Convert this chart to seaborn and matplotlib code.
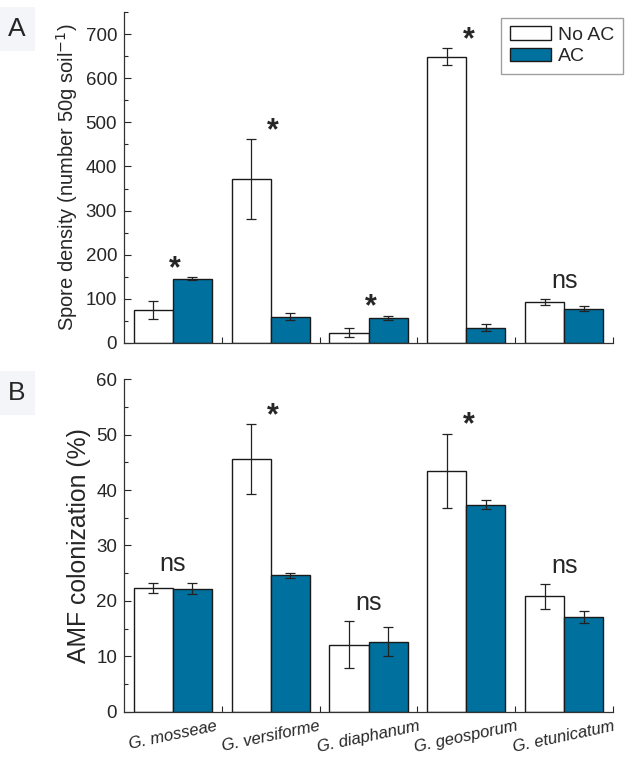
import numpy as np
import pandas as pd
import matplotlib
matplotlib.use('Agg')
import matplotlib.pyplot as plt
import seaborn as sns
from matplotlib.patches import Patch
from matplotlib.ticker import MultipleLocator, FixedLocator

# Dados
especies = ['G. mosseae', 'G. versiforme', 'G. diaphanum', 'G. geosporum', 'G. etunicatum']
tratamentos = ['No AC', 'AC']

esporos_noac = [75, 371, 23, 649, 92]
esporos_noac_err = [21, 91, 10, 19, 7]
esporos_ac = [146, 59, 57, 35, 78]
esporos_ac_err = [3, 8, 4, 8, 5]
sig_esporos = ['*', '*', '*', '*', 'ns']

colon_noac = [22.4, 45.6, 12.1, 43.5, 20.8]
colon_noac_err = [0.9, 6.3, 4.2, 6.7, 2.3]
colon_ac = [22.2, 24.6, 12.6, 37.4, 17.1]
colon_ac_err = [1.0, 0.4, 2.6, 0.9, 1.1]
sig_colon = ['ns', '*', 'ns', '*', 'ns']

azul = '#00709f'
cores = {'No AC': 'white', 'AC': azul}

sns.set_style('ticks')
plt.rcParams['font.family'] = ['Liberation Sans', 'DejaVu Sans']


def monta_df(noac, noac_err, ac, ac_err):
    return pd.DataFrame({
        'especie': especies * 2,
        'tratamento': ['No AC'] * 5 + ['AC'] * 5,
        'valor': noac + ac,
        'erro': noac_err + ac_err,
    })


def painel(ax, df, sig, ylim, major, minor, ylabel, ylabel_size):
    sns.barplot(data=df, x='especie', y='valor', hue='tratamento',
                hue_order=tratamentos, order=especies, palette=cores,
                saturation=1, edgecolor='#1a1a1a', linewidth=1.0,
                errorbar=None, width=0.8, legend=False, ax=ax)
    # barras de erro nos centros das barras
    topos = np.zeros(len(especies))
    for cont, trat in zip(ax.containers, tratamentos):
        sub = df[df['tratamento'] == trat]
        xs = [b.get_x() + b.get_width() / 2 for b in cont]
        ax.errorbar(xs, sub['valor'], yerr=sub['erro'], fmt='none',
                    ecolor='#222222', elinewidth=0.9, capsize=3.5, capthick=0.9)
        topos = np.maximum(topos, (sub['valor'] + sub['erro']).values)
    for i, s in enumerate(sig):
        if s == '*':
            ax.annotate(s, (i + 0.02, topos[i]), xytext=(0, 6),
                        textcoords='offset points', ha='center', va='center',
                        fontsize=22, fontweight='bold')
        else:
            ax.annotate(s, (i, topos[i]), xytext=(0, 8),
                        textcoords='offset points', ha='center', va='baseline',
                        fontsize=18)
    ax.set_xlim(-0.5, 4.5)
    ax.set_ylim(*ylim)
    ax.yaxis.set_major_locator(MultipleLocator(major))
    ax.yaxis.set_minor_locator(MultipleLocator(minor))
    ax.xaxis.set_minor_locator(FixedLocator([0.5, 1.5, 2.5, 3.5, 4.5]))
    ax.tick_params(axis='y', which='major', direction='in', length=5, width=0.8,
                   labelsize=13.5, pad=5)
    ax.tick_params(axis='y', which='minor', direction='in', length=3, width=0.8)
    ax.tick_params(axis='x', which='major', length=0)
    ax.tick_params(axis='x', which='minor', direction='in', length=4, width=0.8)
    ax.set_ylabel(ylabel, fontsize=ylabel_size, labelpad=4)
    ax.set_xlabel('')
    sns.despine(ax=ax)
    for sp in ['left', 'bottom']:
        ax.spines[sp].set_linewidth(0.9)
        ax.spines[sp].set_color('#333333')


fig = plt.figure(figsize=(6.27, 7.6), dpi=100)
axA = fig.add_axes([0.1978, 0.5487, 0.78, 0.4355])
axB = fig.add_axes([0.1978, 0.0636, 0.78, 0.4373])

dfA = monta_df(esporos_noac, esporos_noac_err, esporos_ac, esporos_ac_err)
dfB = monta_df(colon_noac, colon_noac_err, colon_ac, colon_ac_err)

painel(axA, dfA, sig_esporos, (0, 750), 100, 50,
       'Spore density (number 50g soil$^{-1}$)', 14.5)
painel(axB, dfB, sig_colon, (0, 60), 10, 5,
       'AMF colonization (%)', 17.8)

axA.set_xticklabels([])
axB.set_xticklabels(especies, rotation=12, fontstyle='italic', fontsize=12,
                    ha='center')
axB.tick_params(axis='x', which='major', pad=5)

# legenda
handles = [Patch(facecolor=cores[t], edgecolor='#1a1a1a', linewidth=1.0, label=t)
           for t in tratamentos]
axA.legend(handles=handles, loc='upper right', bbox_to_anchor=(1.02, 0.983),
           fontsize=14, frameon=True, fancybox=False, edgecolor='#888888',
           handlelength=2.1, handleheight=0.7, handletextpad=0.35,
           labelspacing=0.2, borderpad=0.45, borderaxespad=0)

# letras dos painéis
for letra, y in [('A', 0.962), ('B', 0.483)]:
    fig.text(0.012, y, letra, fontsize=19, ha='left', va='center',
             bbox=dict(facecolor='#f3f5f8', edgecolor='none', pad=7))

plt.savefig('out.png', dpi=100)
